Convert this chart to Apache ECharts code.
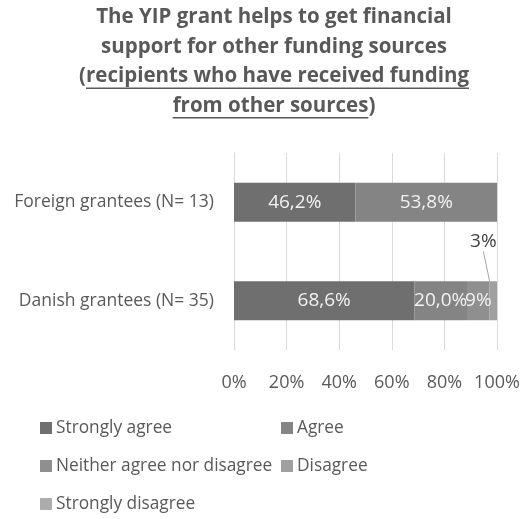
<!DOCTYPE html>
<html>
<head>
<meta charset="utf-8">
<script src="https://cdn.jsdelivr.net/npm/echarts@6/dist/echarts.min.js"></script>
<style>
  html, body { margin: 0; padding: 0; background: #fff; }
  #chart { width: 524px; height: 519px; }
</style>
</head>
<body>
<div id="chart"></div>
<script>
// Survey answers, share of respondents in percent (bottom row first on the category axis)
const categories = ['Danish grantees (N= 35)', 'Foreign grantees (N= 13)'];
const seriesNames = ['Strongly agree', 'Agree', 'Neither agree nor disagree', 'Disagree', 'Strongly disagree'];
const stronglyAgree = [68.6, 46.2];
const agree = [20.0, 53.8];
const neither = [8.6, 0];
const disagree = [2.9, 0];
const stronglyDisagree = [0, 0];
const xTickValues = [0, 20, 40, 60, 80, 100];

const FONT = '"Open Sans", "Noto Sans", sans-serif';
const TITLE_LINES = [
  'The YIP grant helps to get financial',
  'support for other funding sources',
  '(recipients who have received funding',
  'from other sources)'
];
const TITLE_SIZE = 20.5;
const TITLE_TOP = 2.5;
const TITLE_LH = 29.5;
const TITLE_CX = 274;

const colors = ['#6f6f6f', '#848484', '#8f8f8f', '#a0a0a0', '#acacac'];

// Comma as decimal separator, one decimal for the large answers
function pctOneDecimal(p) {
  return p.value ? p.value.toFixed(1).replace('.', ',') + '%' : '';
}
function pctWhole(p) {
  return p.value ? Math.round(p.value) + '%' : '';
}

// Measure title text so the underlines sit exactly beneath the words
const measureCtx = document.createElement('canvas').getContext('2d');
measureCtx.font = 'bold ' + TITLE_SIZE + 'px ' + FONT;
function w(t) { return measureCtx.measureText(t).width; }

function underline(lineIdx, full, before, part) {
  const lineW = w(full);
  const x0 = TITLE_CX - lineW / 2 + w(before);
  const x1 = x0 + w(part);
  const y = TITLE_TOP + TITLE_LH * (lineIdx + 0.5) + 12;
  return {
    type: 'line',
    silent: true,
    shape: { x1: x0, y1: y, x2: x1, y2: y },
    style: { stroke: '#595959', lineWidth: 1.4 }
  };
}

const seriesData = [stronglyAgree, agree, neither, disagree, stronglyDisagree];
const formatters = [pctOneDecimal, pctOneDecimal, pctWhole, pctWhole, pctWhole];

// Zero answers get no label and no leader line
function toItems(data) {
  return data.map(v => v ? v : { value: v, label: { show: false }, labelLine: { show: false } });
}

const series = seriesData.map((data, i) => {
  const s = {
    name: seriesNames[i],
    type: 'bar',
    stack: 'total',
    barWidth: 39,
    data: toItems(data),
    itemStyle: { color: colors[i] },
    label: {
      show: true,
      position: 'inside',
      formatter: formatters[i],
      color: '#f2f2f2',
      fontFamily: FONT,
      fontSize: 19
    }
  };
  if (i === 3) {
    // small slice: label lifted above the bar with a leader line
    s.label = {
      show: true,
      position: 'top',
      formatter: formatters[i],
      color: '#404040',
      fontFamily: FONT,
      fontSize: 19
    };
    s.labelLayout = { dx: -10, dy: -25 };
    s.labelLine = { show: true, lineStyle: { color: '#a6a6a6', width: 1 } };
  }
  return s;
});

const chart = echarts.init(document.getElementById('chart'), null, { renderer: 'canvas' });
chart.setOption({
  animation: false,
  backgroundColor: '#ffffff',
  color: colors,
  title: {
    text: TITLE_LINES.join('\n'),
    left: TITLE_CX,
    textAlign: 'center',
    top: TITLE_TOP,
    padding: 0,
    textStyle: {
      fontFamily: FONT,
      fontWeight: 'bold',
      fontSize: TITLE_SIZE,
      lineHeight: TITLE_LH,
      color: '#595959'
    }
  },
  graphic: [
    underline(2, TITLE_LINES[2], '(', 'recipients who have received funding'),
    underline(3, TITLE_LINES[3], '', 'from other sources')
  ],
  grid: { left: 234, right: 27, top: 153, bottom: 169, containLabel: false },
  xAxis: {
    type: 'value',
    min: 0,
    max: 100,
    interval: 20,
    axisLine: { show: false },
    axisTick: { show: false },
    splitLine: { show: true, lineStyle: { color: '#d9d9d9', width: 1 } },
    axisLabel: {
      margin: 24,
      color: '#595959',
      fontFamily: FONT,
      fontSize: 18,
      customValues: xTickValues,
      formatter: v => v + '%'
    }
  },
  yAxis: {
    type: 'category',
    data: categories,
    axisLine: { show: true, lineStyle: { color: '#d9d9d9', width: 1 } },
    axisTick: { show: false },
    axisLabel: {
      margin: 20,
      color: '#595959',
      fontFamily: FONT,
      fontSize: 17.5
    }
  },
  legend: {
    data: seriesNames,
    left: 40,
    top: 409,
    width: 484,
    orient: 'horizontal',
    icon: 'rect',
    itemWidth: 12,
    itemHeight: 12,
    itemGap: 0,
    padding: 0,
    textStyle: {
      color: '#595959',
      fontFamily: FONT,
      fontSize: 17.3,
      width: 225,
      lineHeight: 38,
      height: 38,
      padding: [0, 0, 0, -1]
    }
  },
  series: series
});
</script>
</body>
</html>
